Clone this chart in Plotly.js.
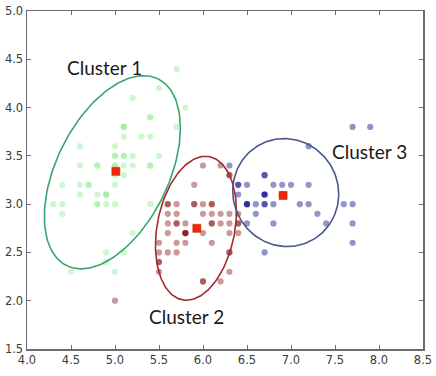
<!DOCTYPE html>
<html>
<head>
<meta charset="utf-8">
<script src="https://cdn.plot.ly/plotly-3.0.1.min.js"></script>
<style>html,body{margin:0;padding:0;background:#fff;}#chart{width:436px;height:376px;}</style>
</head>
<body>
<div id="chart"></div>
<script>
// Cluster 1 (green)
var c1X = [5.1,4.9,4.7,4.6,5.0,5.4,4.6,5.0,4.4,4.9,5.4,4.8,4.8,4.3,5.8,5.7,5.4,5.1,5.7,5.1,5.4,5.1,4.6,5.1,4.8,5.0,5.0,5.2,5.2,4.7,4.8,5.4,5.2,5.5,4.9,5.0,5.5,4.9,4.4,5.1,5.0,4.5,4.4,5.0,5.1,4.8,5.1,4.6,5.3,5.0,
           4.9,5.2,5.4,5.0,5.1,4.9];
var c1Y = [3.5,3.0,3.2,3.1,3.6,3.9,3.4,3.4,2.9,3.1,3.7,3.4,3.0,3.0,4.0,4.4,3.9,3.5,3.8,3.8,3.4,3.7,3.6,3.3,3.4,3.0,3.4,3.5,3.4,3.2,3.1,3.4,4.1,4.2,3.1,3.2,3.5,3.1,3.0,3.4,3.5,2.3,3.2,3.5,3.8,3.0,3.8,3.2,3.7,3.3,
           2.4,2.7,3.0,2.3,2.5,2.5];
// Cluster 2 (dark red)
var c2X = [5.5,5.7,6.3,5.0,5.9,6.0,6.1,5.6,5.6,5.8,6.2,5.6,5.9,6.1,6.3,6.1,6.4,6.0,5.7,5.5,5.5,5.8,6.0,6.0,6.3,5.6,5.5,5.5,6.1,5.8,5.6,5.7,5.7,6.2,5.7,
           6.3,5.8,6.3,6.4,5.7,5.8,6.0,5.6,6.3,6.2,6.1,6.4,6.4,6.3,6.1,6.0,5.8,6.3,6.2,5.9];
var c2Y = [2.3,2.8,3.3,2.0,3.0,2.2,2.9,2.9,3.0,2.7,2.2,2.5,3.2,2.8,2.5,2.8,2.9,2.9,2.6,2.4,2.4,2.7,2.7,3.4,2.3,3.0,2.5,2.6,3.0,2.6,2.7,3.0,2.9,2.9,2.8,
           3.3,2.7,2.9,2.7,2.5,2.8,2.2,2.8,2.7,2.8,3.0,2.8,2.8,2.8,2.6,3.0,2.7,2.5,3.4,3.0];
// Cluster 3 (navy)
var c3X = [7.0,6.4,6.9,6.5,6.6,6.7,6.6,6.8,6.7,6.7,
           7.1,6.5,7.6,7.3,6.7,7.2,6.5,6.8,6.4,6.5,7.7,7.7,6.9,7.7,6.7,7.2,7.2,7.4,7.9,7.7,6.3,6.4,6.9,6.7,6.9,6.8,6.7,6.7,6.5];
var c3Y = [3.2,3.2,3.1,2.8,2.9,3.1,3.0,2.8,3.0,3.1,
           3.0,3.0,3.0,2.9,2.5,3.6,3.2,3.0,3.2,3.0,3.8,2.6,3.2,2.8,3.3,3.2,3.0,2.8,3.8,3.0,3.4,3.1,3.1,3.1,3.1,3.2,3.3,3.0,3.0];
// Cluster centres
var centX = [5.01, 5.93, 6.91];
var centY = [3.34, 2.75, 3.09];
// Ellipse parameters: centre, half extent in x and y, correlation
var ellCx = [4.97, 5.92, 6.94];
var ellCy = [3.33, 2.75, 3.12];
var ellSx = [0.773, 0.46, 0.602];
var ellSy = [1.0, 0.745, 0.559];
var ellRho = [0.46, 0.235, -0.03];
var ellColors = ['rgb(55,165,115)', 'rgb(165,40,48)', 'rgb(72,88,138)'];
// Labels
var labelText = ['Cluster 1', 'Cluster 2', 'Cluster 3'];
var labelX = [4.88, 5.81, 7.89];
var labelY = [4.42, 1.84, 3.55];

var traces = [];
function pts(x, y, col) {
  return {type:'scatter', mode:'markers', x:x, y:y, hoverinfo:'skip',
    marker:{size:6.2, color:col, line:{width:0}}};
}
traces.push(pts(c1X, c1Y, 'rgba(144,238,144,0.45)'));
traces.push(pts(c2X, c2Y, 'rgba(128,0,0,0.4)'));
traces.push(pts(c3X, c3Y, 'rgba(0,0,128,0.42)'));

for (var k = 0; k < ellCx.length; k++) {
  var ex = [], ey = [];
  var s = Math.sqrt(1 - ellRho[k] * ellRho[k]);
  for (var i = 0; i <= 160; i++) {
    var t = 2 * Math.PI * i / 160;
    ex.push(ellCx[k] + ellSx[k] * Math.cos(t));
    ey.push(ellCy[k] + ellSy[k] * (ellRho[k] * Math.cos(t) + s * Math.sin(t)));
  }
  traces.push({type:'scatter', mode:'lines', x:ex, y:ey, hoverinfo:'skip',
    line:{color:ellColors[k], width:1.6}});
}
traces.push({type:'scatter', mode:'markers', x:centX, y:centY, hoverinfo:'skip',
  marker:{symbol:'square', size:8, color:'rgb(240,40,10)', line:{width:0.6, color:'rgb(200,30,10)'}}});

var annotations = labelText.map(function (t, i) {
  return {x:labelX[i], y:labelY[i], xref:'x', yref:'y', text:t, showarrow:false,
    font:{family:'Lato, "Open Sans", sans-serif', size:19, color:'#1a1a1a'}};
});

var axisCommon = {
  showgrid:false, zeroline:false, showline:true, linecolor:'#6b6b6b', linewidth:1.5,
  mirror:'ticks', ticks:'inside', ticklen:4, tickwidth:1, tickcolor:'#6b6b6b',
  tickfont:{family:'"DejaVu Sans", sans-serif', size:11.5, color:'#3a3a3a'},
  tickformat:'.1f', dtick:0.5, fixedrange:true
};
var layout = {
  width:436, height:376,
  margin:{l:27, r:13, t:11, b:27, pad:0},
  paper_bgcolor:'#ffffff', plot_bgcolor:'#ffffff',
  showlegend:false,
  xaxis:Object.assign({}, axisCommon, {range:[4.0, 8.5], tick0:4.0}),
  yaxis:Object.assign({}, axisCommon, {range:[1.5, 5.0], tick0:1.5}),
  annotations:annotations
};
Plotly.newPlot('chart', traces, layout, {staticPlot:true, displayModeBar:false});
</script>
</body>
</html>
